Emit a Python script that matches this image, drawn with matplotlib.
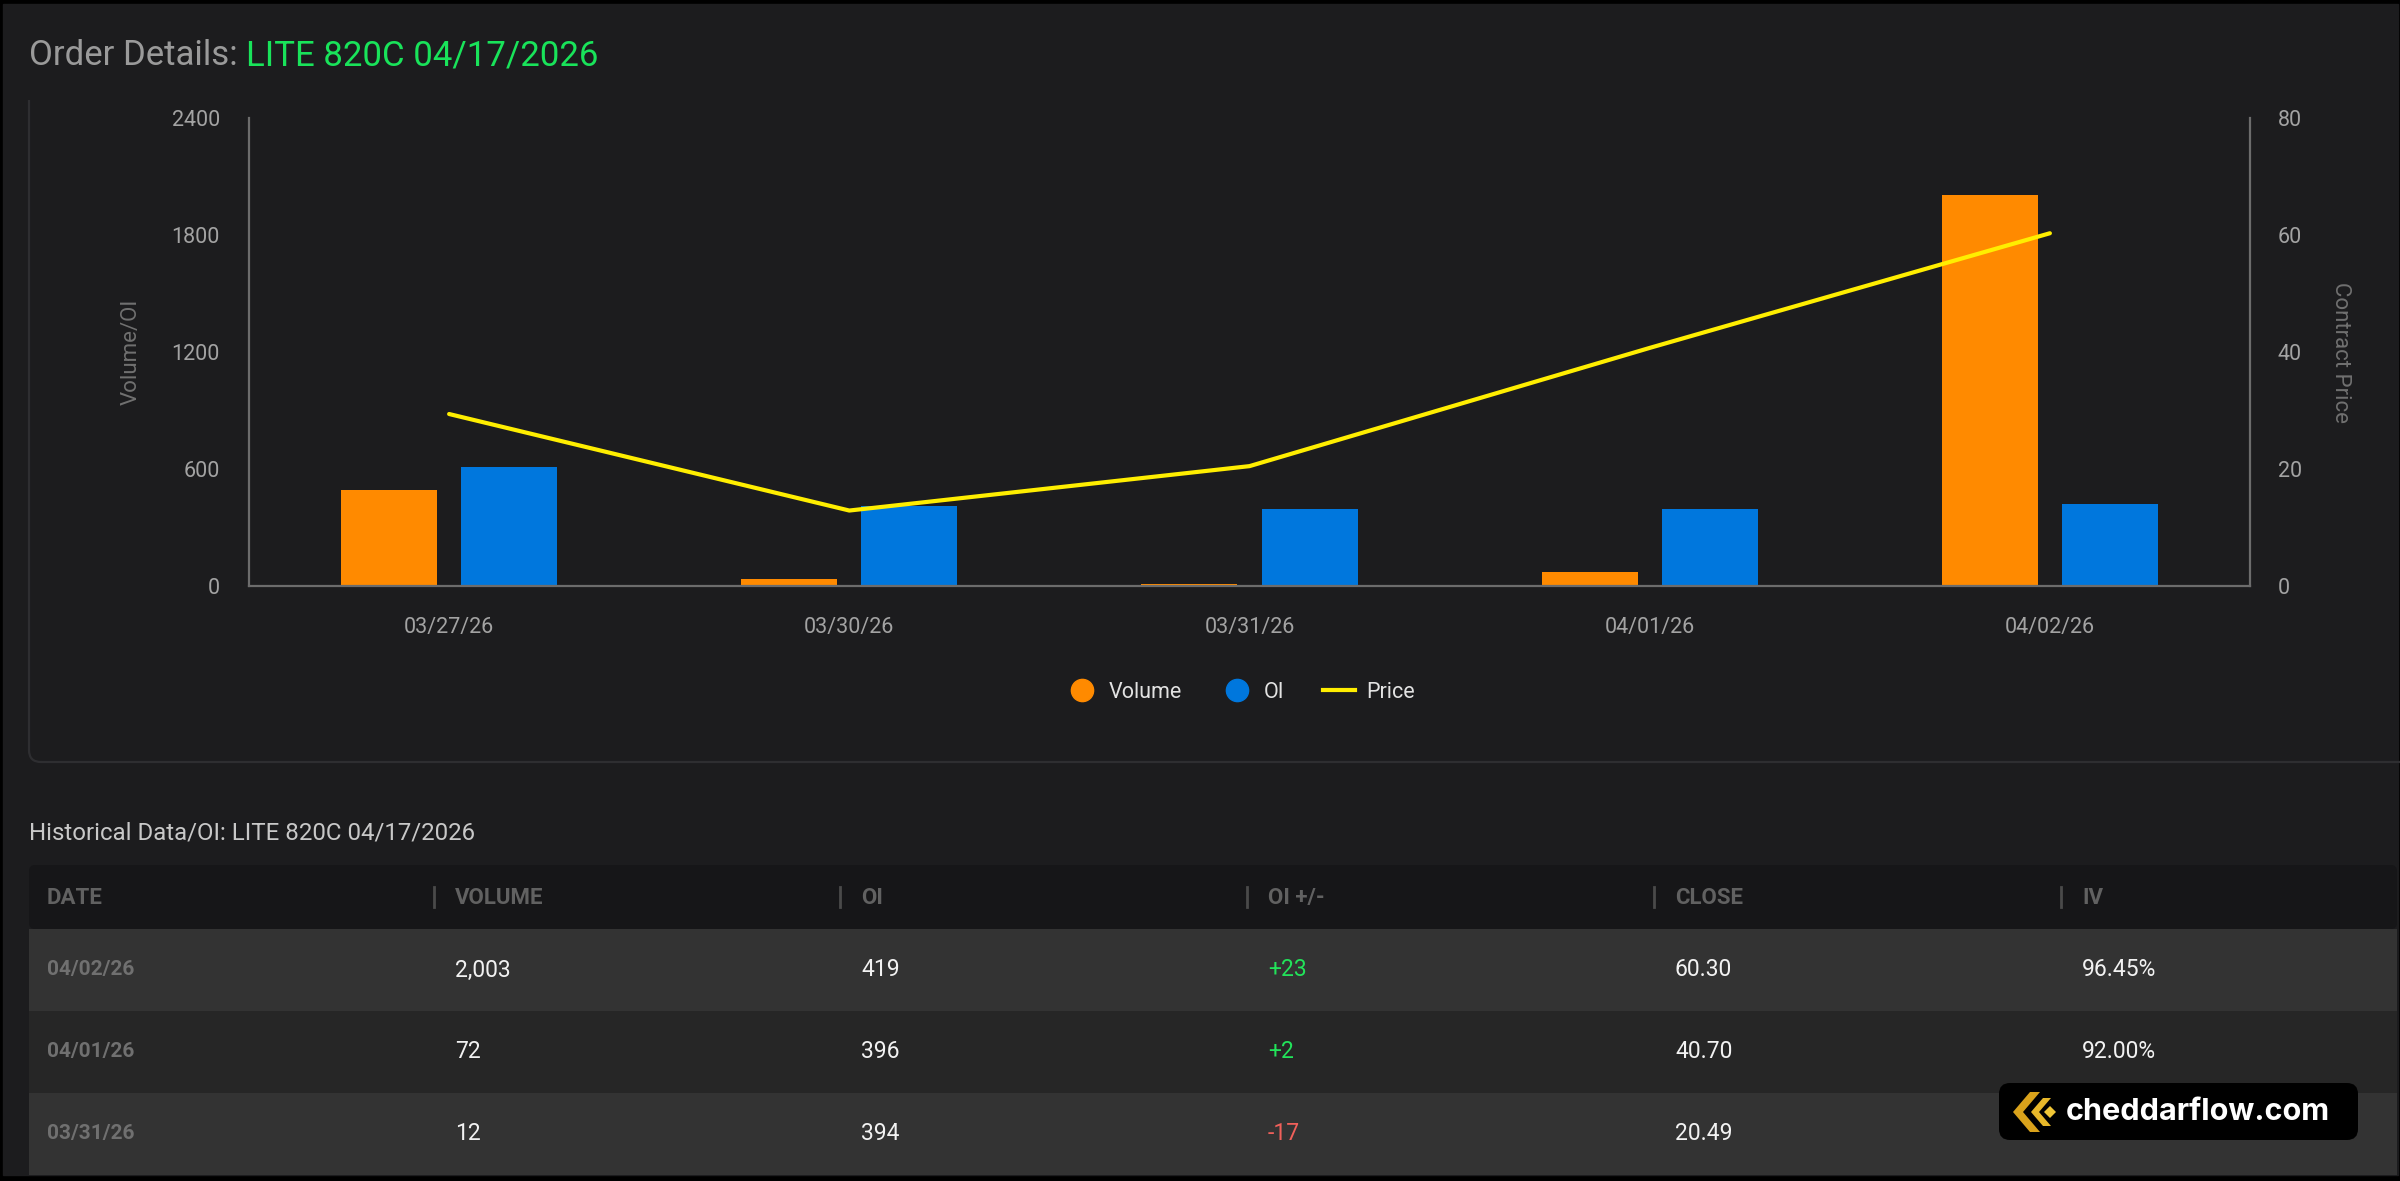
import matplotlib
matplotlib.use("Agg")
import matplotlib.pyplot as plt
from matplotlib.patches import Rectangle, FancyBboxPatch, Polygon
from matplotlib.lines import Line2D
import numpy as np

plt.rcParams['font.family'] = ['Roboto', 'DejaVu Sans']

# chart data
dates = ['03/27/26', '03/30/26', '03/31/26', '04/01/26', '04/02/26']
volume = [490, 35, 12, 72, 2003]
oi = [612, 411, 394, 396, 419]
price = [29.4, 12.9, 20.49, 40.70, 60.30]

# table data
tbl_headers = ['DATE', 'VOLUME', 'OI', 'OI +/-', 'CLOSE', 'IV']
tbl_dates = ['04/02/26', '04/01/26', '03/31/26']
tbl_volume = ['2,003', '72', '12']
tbl_oi = ['419', '396', '394']
tbl_oi_chg = ['+23', '+2', '-17']
tbl_close = ['60.30', '40.70', '20.49']
tbl_iv = ['96.45%', '92.00%', '89.60%']

BG = '#1c1c1e'
ORANGE = '#ff8a00'
BLUE = '#0077dd'
YELLOW = '#ffee00'
AXIS = '#6c6c6c'
TICK = '#a3a3a3'

W, H = 2400, 1181
fig = plt.figure(figsize=(W / 100, H / 100), dpi=100, facecolor='black')

# background layer in pixel coordinates
bg = fig.add_axes([0, 0, 1, 1])
bg.set_xlim(0, W)
bg.set_ylim(H, 0)
bg.axis('off')
bg.add_patch(Rectangle((3, 4), 2395, 1171, color=BG, zorder=0))

# chart panel outline (only left and bottom edges visible)
panel = FancyBboxPatch((29, -100), 2500, 862, boxstyle='round,pad=0,rounding_size=12',
                       fc='none', ec='#2e2e31', lw=1.6, zorder=1)
bg.add_patch(panel)
panel.set_clip_path(Rectangle((0, 100), W, H, transform=bg.transData))

# title
t1 = bg.text(29, 65, 'Order Details: ', color='#9a9a9a', fontsize=25, va='baseline', ha='left')
fig.canvas.draw()
bb = t1.get_window_extent()
bg.text(bb.x1, 65, 'LITE 820C 04/17/2026', color='#19e35a', fontsize=25, va='baseline', ha='left')

# chart
ax = fig.add_axes([249 / W, (H - 586) / H, 2001 / W, 468 / H])
ax.set_facecolor('none')
x = np.arange(len(dates))
ax.bar(x - 0.15, volume, width=0.24, color=ORANGE, zorder=2)
ax.bar(x + 0.15, oi, width=0.24, color=BLUE, zorder=2)
ax.set_xlim(-0.5, len(dates) - 0.5)
ax.set_ylim(0, 2400)
ax.set_yticks([0, 600, 1200, 1800, 2400])
ax.set_xticks(x)
ax.set_xticklabels(dates)
ax.tick_params(axis='y', length=0, pad=21, labelsize=15.5, labelcolor=TICK)
ax.tick_params(axis='x', length=0, pad=22, labelsize=15.5, labelcolor=TICK)
for s in ['top', 'right']:
    ax.spines[s].set_visible(False)
for s in ['left', 'bottom']:
    ax.spines[s].set_color(AXIS)
    ax.spines[s].set_linewidth(1.6)
ax.set_ylabel('Volume/OI', color='#707070', fontsize=16)
ax.yaxis.set_label_coords(-0.0535, 0.5)

ax2 = ax.twinx()
ax2.plot(x, price, color=YELLOW, lw=3, solid_capstyle='round', zorder=3)
ax2.set_ylim(0, 80)
ax2.set_yticks([0, 20, 40, 60, 80])
ax2.tick_params(axis='y', length=0, pad=20, labelsize=15.5, labelcolor=TICK)
for s in ['top', 'left', 'bottom']:
    ax2.spines[s].set_visible(False)
ax2.spines['right'].set_color(AXIS)
ax2.spines['right'].set_linewidth(1.6)
ax2.set_ylabel('Contract Price', color='#707070', fontsize=16, rotation=270)
ax2.yaxis.set_label_coords(1.0505, 0.5)

handles = [
    Line2D([], [], ls='none', marker='o', ms=16, color=ORANGE, label='Volume'),
    Line2D([], [], ls='none', marker='o', ms=16, color=BLUE, label='OI'),
    Line2D([], [], color=YELLOW, lw=3, label='Price'),
]
leg = ax.legend(handles=handles, loc='center', ncol=3, frameon=False,
                bbox_to_anchor=(1240 / W, 1 - 692 / H), bbox_transform=fig.transFigure,
                fontsize=15.5, handlelength=1.5, handletextpad=0.5, columnspacing=1.8)
for t in leg.get_texts():
    t.set_color('#e2e2e2')

# historical table
bg.text(29, 833, 'Historical Data/OI: LITE 820C 04/17/2026', color='#c8c8c8',
        fontsize=17.3, va='center', ha='left')
bg.add_patch(FancyBboxPatch((29, 865), 2368, 64, boxstyle='round,pad=0,rounding_size=6',
                            fc='#161618', ec='none', zorder=1))
row_top = [929, 1011, 1093]
row_h = 82
row_col = ['#333333', '#262626', '#333333']
for top, c in zip(row_top, row_col):
    bg.add_patch(Rectangle((29, top), 2368, row_h, fc=c, ec='none', zorder=1))

col_x = [47, 455, 861, 1268, 1675, 2082]
for i, h in enumerate(tbl_headers):
    bg.text(col_x[i], 898, h, color='#616161', fontsize=16, fontweight='bold',
            va='center', ha='left', zorder=2)
    if i > 0:
        bg.plot([col_x[i] - 21, col_x[i] - 21], [887, 907], color='#4a4a4a', lw=2, zorder=2)

for r in range(len(tbl_dates)):
    yc = row_top[r] + row_h / 2
    chg = tbl_oi_chg[r]
    chg_col = '#22e35a' if chg.startswith('+') else '#f0605a'
    cells = [(tbl_dates[r], '#707070', 'bold'), (tbl_volume[r], '#f2f2f2', 'normal'),
             (tbl_oi[r], '#f2f2f2', 'normal'), (chg, chg_col, 'normal'),
             (tbl_close[r], '#f2f2f2', 'normal'), (tbl_iv[r], '#f2f2f2', 'normal')]
    for i, (txt, c, fw) in enumerate(cells):
        bg.text(col_x[i], yc, txt, color=c, fontsize=16.5 if i else 15, fontweight=fw,
                va='center', ha='left', zorder=2)

# watermark
bg.add_patch(FancyBboxPatch((1999, 1083), 359, 57, boxstyle='round,pad=0,rounding_size=11',
                            fc='black', ec='none', zorder=5))
bg.add_patch(Polygon([[2030, 1092], [2040, 1092], [2023, 1112], [2040, 1132], [2030, 1132], [2013, 1112]],
                     closed=True, fc='#d9a21b', ec='none', zorder=6))
bg.add_patch(Polygon([[2043, 1098], [2051, 1098], [2039, 1112], [2051, 1126], [2043, 1126], [2031, 1112]],
                     closed=True, fc='#e8b82a', ec='none', zorder=6))
bg.add_patch(Polygon([[2050, 1106], [2056, 1112], [2050, 1118], [2044, 1112]],
                     closed=True, fc='#f0c636', ec='none', zorder=6))
bg.text(2066, 1112, 'cheddarflow.com', color='white', fontsize=22, fontweight='bold',
        family=['Inter', 'DejaVu Sans'], va='center', ha='left', zorder=6)

fig.savefig('out.png', dpi=100, facecolor=fig.get_facecolor())
